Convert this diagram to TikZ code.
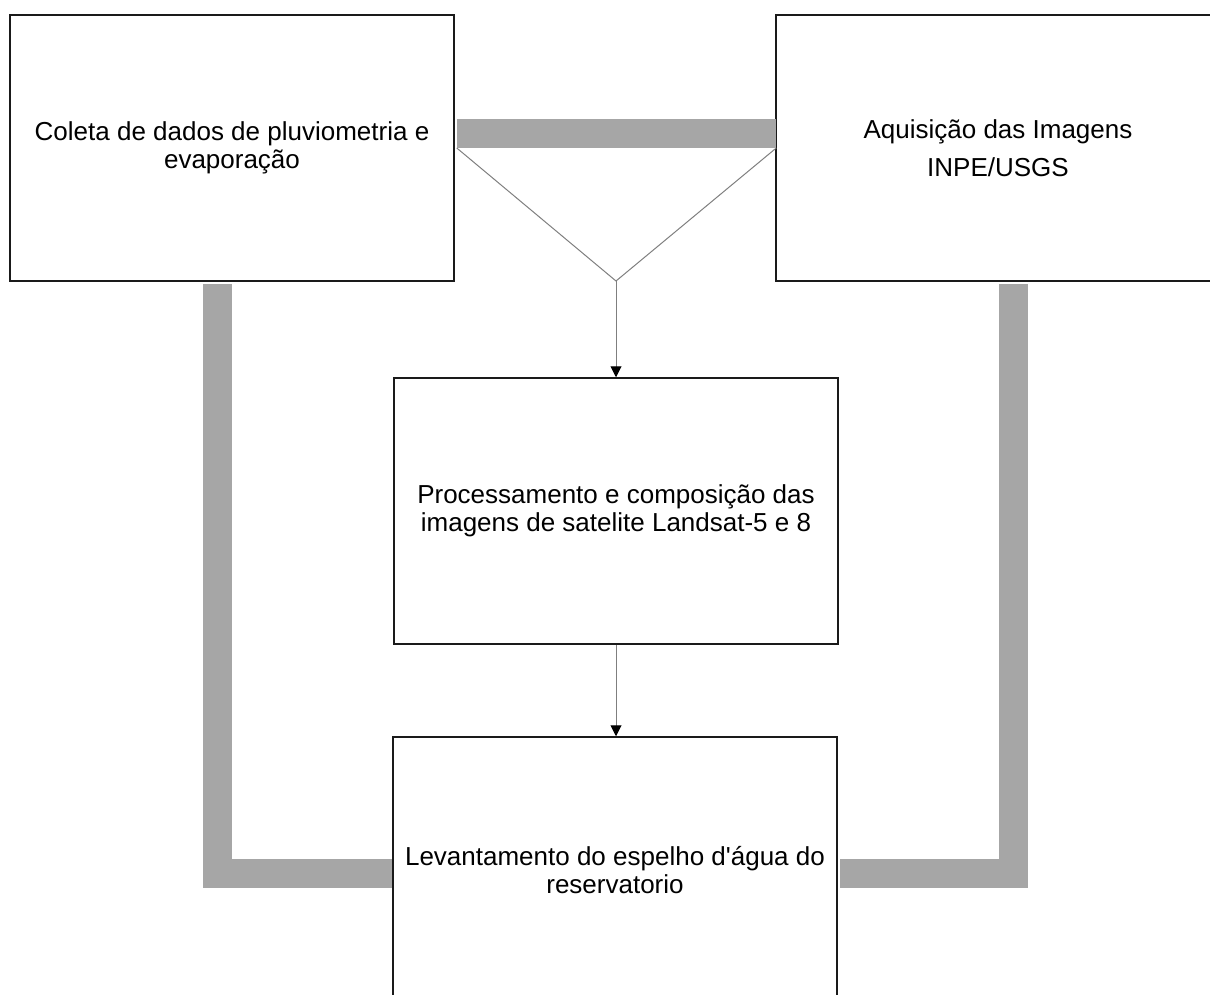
\documentclass[tikz,border=0pt]{standalone}
\usepackage{fontspec}
\setmainfont{Liberation Sans}
\usepackage{tikz}
\usetikzlibrary{arrows.meta,calc,positioning}
\definecolor{ink}{HTML}{1A1A1A}
\definecolor{band}{HTML}{A6A6A6}
\definecolor{thin}{HTML}{7F7F7F}
\tikzset{
  box/.style={draw=ink,line width=1.5pt,fill=white,align=center,inner sep=0pt,
              minimum width=444pt,minimum height=266pt,
              font=\fontsize{26}{28}\selectfont},
  bandline/.style={draw=band,line width=29pt,line join=miter,line cap=butt},
  thinline/.style={draw=thin,line width=1pt},
  flow/.style={thinline,-{Triangle[length=11pt,width=11pt,color=black]}}
}
\begin{document}
\begin{tikzpicture}[x=1pt,y=-1pt]
  \useasboundingbox (0,0) rectangle (1210,995);
  % boxes
  \node[box] (coleta) at (232,148) {Coleta de dados de pluviometria e\\evaporação};
  \node[box,font=\fontsize{26}{38}\selectfont] (aquis) at (998,148) {Aquisição das Imagens\\INPE/USGS};
  \node[box] (proc) at (616,511) {Processamento e composição das\\imagens de satelite Landsat-5 e 8};
  \node[box] (lev) at (615,870) {Levantamento do espelho d\textquotesingle água do\\reservatorio};
  % junction
  \coordinate (apex) at (616,281);
  \draw[bandline] ([xshift=2pt,yshift=14.5pt]coleta.east) -- ([xshift=1pt,yshift=14.5pt]aquis.west);
  \draw[thinline] ([xshift=2pt]coleta.east) -- (apex) -- ([xshift=1pt]aquis.west);
  \draw[flow] (apex) -- (proc.north);
  \draw[flow] (proc.south) -- (proc.south |- lev.north);
  % side bands
  \draw[bandline] ([xshift=-14.5pt,yshift=-2pt]coleta.south) |- ([yshift=-3.5pt]lev.west);
  \draw[bandline] ([xshift=15pt,yshift=-2pt]aquis.south) |- ([xshift=2pt,yshift=-3pt]lev.east);
\end{tikzpicture}
\end{document}
